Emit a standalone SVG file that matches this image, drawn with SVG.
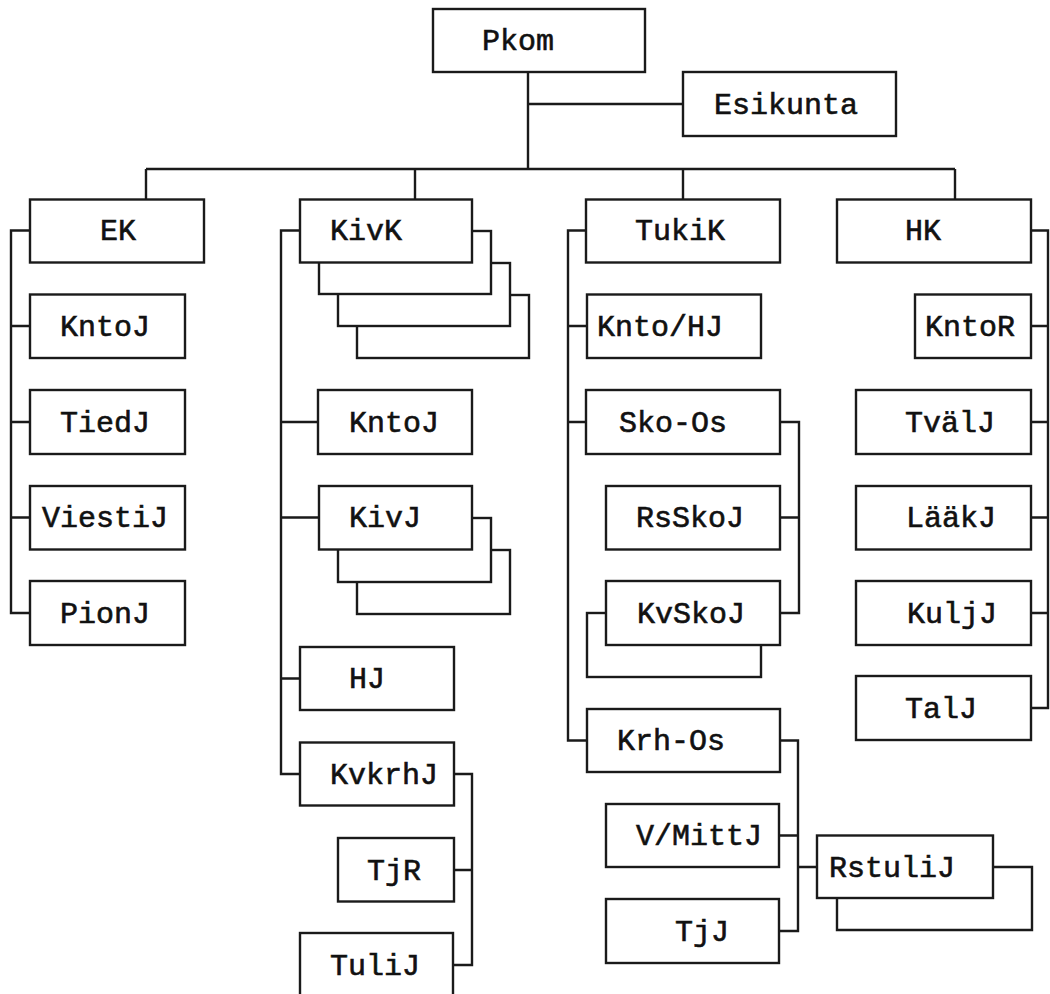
<svg xmlns="http://www.w3.org/2000/svg" width="1050" height="994" viewBox="0 0 1050 994">
<style>
.box{fill:#fff;stroke:#1a1a1a;stroke-width:2.4}
.conn{fill:none;stroke:#1a1a1a;stroke-width:2.4}
.lbl{font-family:"Liberation Mono","DejaVu Sans Mono",monospace;font-size:30px;fill:#111;stroke:#111;stroke-width:0.6}
</style>
<rect width="1050" height="994" fill="#fff"/>
<g id="connectors">
<path class="conn" d="M528 72V169M528 104H683M146 169H955M146 169V199.5M415 169V199.5M683 169V199.5M955 169V199.5"/>
<path class="conn" d="M30 230.5H11V613H30M11 326H30M11 422H30M11 517.5H30"/>
<path class="conn" d="M300 230.5H281V774H300M281 422H318M281 517.5H319M281 678.5H300"/>
<path class="conn" d="M454 774H472V965H453M454 870H472"/>
<path class="conn" d="M586 230.5H568V740.5H587M568 326H587M568 422H586"/>
<path class="conn" d="M780 422H799V613H780M780 517.5H799"/>
<path class="conn" d="M780 740.5H798V931H779M779 835.5H798M798 867H817"/>
<path class="conn" d="M1031 230.5H1048V708H1031M1031 326H1048M1031 422H1048M1031 517.5H1048M1031 613H1048"/>
</g>
<g id="n-pkom"><rect class="box" x="433" y="9" width="212" height="63"/><text class="lbl" x="482" y="50">Pkom</text></g>
<g id="n-esikunta"><rect class="box" x="683" y="72" width="213" height="64"/><text class="lbl" x="714" y="114">Esikunta</text></g>
<g id="n-ek"><rect class="box" x="30" y="199.5" width="174" height="63"/><text class="lbl" x="100" y="240">EK</text></g>
<g id="n-ek-kntoj"><rect class="box" x="30" y="294.5" width="155" height="63.5"/><text class="lbl" x="60" y="335.5">KntoJ</text></g>
<g id="n-tiedj"><rect class="box" x="30" y="390" width="155" height="64"/><text class="lbl" x="60" y="431.5">TiedJ</text></g>
<g id="n-viestij"><rect class="box" x="30" y="486" width="155" height="63.5"/><text class="lbl" x="42" y="527">ViestiJ</text></g>
<g id="n-pionj"><rect class="box" x="30" y="581" width="155" height="64"/><text class="lbl" x="60" y="622.5">PionJ</text></g>
<g id="n-kivk">
<rect class="box" x="357" y="295" width="172" height="63"/>
<rect class="box" x="338" y="263" width="172" height="63"/>
<rect class="box" x="319" y="231" width="172" height="63"/>
<rect class="box" x="300" y="199.5" width="172" height="63"/>
<text class="lbl" x="330" y="240">KivK</text></g>
<g id="n-kivk-kntoj"><rect class="box" x="318" y="390" width="154" height="64"/><text class="lbl" x="349" y="431.5">KntoJ</text></g>
<g id="n-kivj">
<rect class="box" x="357" y="550" width="153" height="64"/>
<rect class="box" x="338" y="518" width="153" height="64"/>
<rect class="box" x="319" y="486" width="153" height="63.5"/>
<text class="lbl" x="349" y="527">KivJ</text></g>
<g id="n-hj"><rect class="box" x="300" y="647" width="154" height="63"/><text class="lbl" x="349" y="688">HJ</text></g>
<g id="n-kvkrhj"><rect class="box" x="300" y="742.5" width="154" height="63"/><text class="lbl" x="330" y="783.5">KvkrhJ</text></g>
<g id="n-tjr"><rect class="box" x="338" y="838" width="116" height="63.5"/><text class="lbl" x="367" y="879.5">TjR</text></g>
<g id="n-tulij"><rect class="box" x="300" y="933" width="153" height="64"/><text class="lbl" x="330" y="975">TuliJ</text></g>
<g id="n-tukik"><rect class="box" x="586" y="199.5" width="194" height="63"/><text class="lbl" x="635" y="240">TukiK</text></g>
<g id="n-knto-hj"><rect class="box" x="587" y="294.5" width="174" height="63.5"/><text class="lbl" x="597" y="335.5">Knto/HJ</text></g>
<g id="n-sko-os"><rect class="box" x="586" y="390" width="194" height="64"/><text class="lbl" x="619" y="431.5">Sko-Os</text></g>
<g id="n-rsskoj"><rect class="box" x="606" y="486" width="174" height="63.5"/><text class="lbl" x="636" y="527">RsSkoJ</text></g>
<g id="n-kvskoj">
<rect class="box" x="587" y="613" width="174" height="64"/>
<rect class="box" x="606" y="581" width="174" height="64"/>
<text class="lbl" x="637" y="622.5">KvSkoJ</text></g>
<g id="n-krh-os"><rect class="box" x="587" y="709" width="193" height="63"/><text class="lbl" x="617" y="750">Krh-Os</text></g>
<g id="n-vmittj"><rect class="box" x="606" y="804" width="173" height="63"/><text class="lbl" x="636" y="845">V/MittJ</text></g>
<g id="n-tjj"><rect class="box" x="606" y="899" width="173" height="64"/><text class="lbl" x="675" y="940.5">TjJ</text></g>
<g id="n-rstulij">
<path class="conn" d="M993 867H1032V930H837V898"/>
<rect class="box" x="817" y="835.5" width="176" height="62.5"/>
<text class="lbl" x="829" y="876.5">RstuliJ</text></g>
<g id="n-hk"><rect class="box" x="837" y="199.5" width="194" height="63"/><text class="lbl" x="905" y="240">HK</text></g>
<g id="n-kntor"><rect class="box" x="915" y="294.5" width="116" height="63.5"/><text class="lbl" x="925" y="335.5">KntoR</text></g>
<g id="n-tvalj"><rect class="box" x="856" y="390" width="175" height="64"/><text class="lbl" x="905" y="431.5">TvälJ</text></g>
<g id="n-laakj"><rect class="box" x="856" y="486" width="175" height="63.5"/><text class="lbl" x="906" y="527">LääkJ</text></g>
<g id="n-kuljj"><rect class="box" x="856" y="581" width="175" height="64"/><text class="lbl" x="907" y="622.5">KuljJ</text></g>
<g id="n-talj"><rect class="box" x="856" y="676" width="175" height="64"/><text class="lbl" x="905" y="717.5">TalJ</text></g>
</svg>
